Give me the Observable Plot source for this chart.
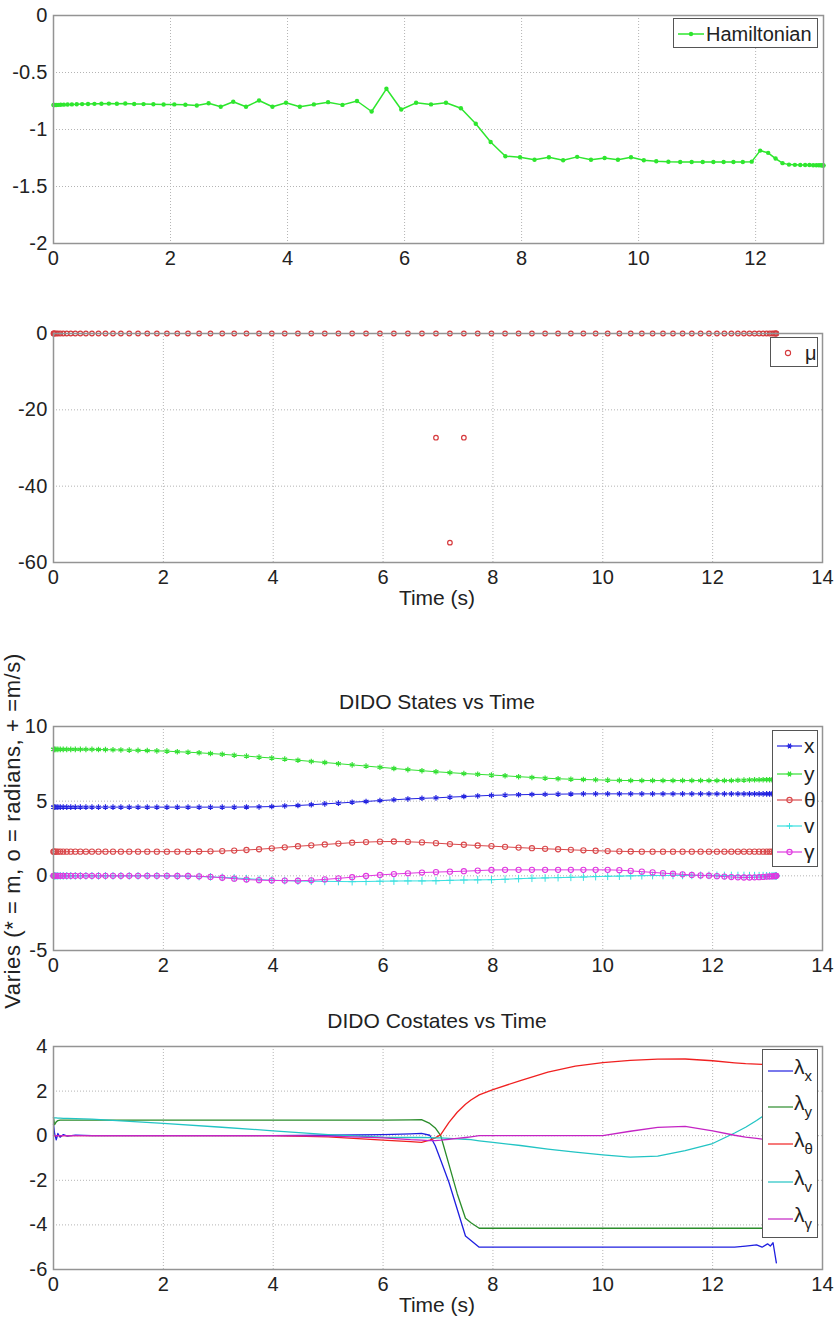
<!DOCTYPE html>
<html><head><meta charset="utf-8">
<script src="https://cdn.jsdelivr.net/npm/d3@7"></script>
<script src="https://cdn.jsdelivr.net/npm/@observablehq/plot@0.6"></script>
<style>
body{margin:0;background:#fff;}
#root{position:relative;width:840px;height:1321px;overflow:hidden;font-family:"Liberation Sans",Arial,Helvetica,sans-serif;color:#222;}
.lbl{position:absolute;white-space:nowrap;font-size:20px;line-height:20px;transform:translate(-50%,-50%);}
.legend{position:absolute;background:#fff;border:1px solid #555;box-sizing:border-box;}
.legend svg{position:absolute;left:0;top:0;}
.legend .t{position:absolute;white-space:nowrap;line-height:20px;transform:translateY(-50%);}
.legend sub{font-size:15px;vertical-align:-7px;}
</style></head>
<body><div id="root"></div>
<script>
// ---------- data ----------
const time = [0,0.005,0.020,0.045,0.079,0.123,0.177,0.241,0.314,0.397,
0.489,0.590,0.700,0.819,0.946,1.083,1.227,1.379,1.539,1.707,
1.882,2.065,2.254,2.449,2.651,2.858,3.072,3.290,3.513,3.742,
3.974,4.210,4.450,4.693,4.939,5.187,5.437,5.690,5.943,6.197,
6.452,6.708,6.963,7.217,7.471,7.723,7.973,8.221,8.467,8.710,
8.950,9.186,9.419,9.647,9.870,10.089,10.302,10.509,10.711,10.907,
11.096,11.278,11.453,11.621,11.781,11.933,12.078,12.214,12.341,12.460,
12.570,12.671,12.763,12.846,12.919,12.983,13.037,13.081,13.116,13.140,
13.155,13.160];

const hamiltonian = [-0.785,-0.785,-0.785,-0.785,-0.784,-0.783,-0.782,-0.781,-0.780,-0.779,
-0.777,-0.776,-0.775,-0.774,-0.773,-0.774,-0.772,-0.776,-0.777,-0.779,
-0.781,-0.780,-0.783,-0.790,-0.770,-0.800,-0.757,-0.800,-0.746,-0.800,
-0.765,-0.800,-0.780,-0.760,-0.784,-0.750,-0.842,-0.643,-0.825,-0.766,
-0.780,-0.766,-0.813,-0.950,-1.110,-1.234,-1.243,-1.265,-1.243,-1.270,
-1.240,-1.265,-1.250,-1.265,-1.243,-1.270,-1.278,-1.283,-1.285,-1.285,
-1.285,-1.285,-1.285,-1.285,-1.285,-1.282,-1.185,-1.205,-1.255,-1.295,
-1.308,-1.310,-1.311,-1.312,-1.312,-1.313,-1.313,-1.314,-1.314,-1.315,
-1.315,-1.315];

// mu at every node (all on the zero line)
const mu = [0,0,0,0,0,0,0,0,0,0,
0,0,0,0,0,0,0,0,0,0,
0,0,0,0,0,0,0,0,0,0,
0,0,0,0,0,0,0,0,0,0,
0,0,0,0,0,0,0,0,0,0,
0,0,0,0,0,0,0,0,0,0,
0,0,0,0,0,0,0,0,0,0,
0,0,0,0,0,0,0,0,0,0,
0,0];
// the three off-zero mu values
const muSpikeTime = [6.963, 7.217, 7.471];
const muSpikeValue = [-27.3, -54.8, -27.3];

const stateX = [4.60,4.60,4.60,4.60,4.60,4.60,4.60,4.60,4.60,4.60,
4.60,4.60,4.60,4.60,4.60,4.60,4.60,4.60,4.60,4.60,
4.60,4.60,4.60,4.60,4.60,4.60,4.60,4.60,4.61,4.62,
4.64,4.68,4.71,4.76,4.82,4.87,4.93,4.98,5.04,5.09,
5.15,5.19,5.22,5.27,5.31,5.35,5.39,5.41,5.43,5.45,
5.46,5.47,5.48,5.49,5.49,5.49,5.49,5.49,5.49,5.49,
5.49,5.49,5.49,5.49,5.49,5.49,5.49,5.49,5.49,5.49,
5.49,5.49,5.49,5.49,5.49,5.49,5.49,5.49,5.49,5.49,
5.49,5.49];

const stateY = [8.47,8.47,8.47,8.47,8.47,8.47,8.47,8.47,8.47,8.47,
8.47,8.47,8.47,8.46,8.45,8.44,8.43,8.42,8.40,8.39,
8.37,8.35,8.31,8.28,8.24,8.19,8.14,8.08,8.02,7.95,
7.89,7.82,7.74,7.66,7.59,7.51,7.43,7.35,7.27,7.19,
7.11,7.04,6.97,6.91,6.85,6.80,6.75,6.70,6.64,6.59,
6.54,6.50,6.47,6.45,6.43,6.41,6.39,6.38,6.38,6.38,
6.38,6.38,6.38,6.38,6.38,6.38,6.38,6.38,6.38,6.40,
6.41,6.42,6.43,6.43,6.44,6.44,6.44,6.44,6.44,6.44,
6.44,6.44];

const stateTheta = [1.62,1.62,1.62,1.62,1.62,1.62,1.62,1.62,1.62,1.62,
1.62,1.62,1.62,1.62,1.62,1.62,1.62,1.62,1.62,1.62,
1.62,1.62,1.62,1.62,1.63,1.64,1.66,1.69,1.73,1.78,
1.84,1.91,1.98,2.04,2.10,2.16,2.22,2.26,2.29,2.30,
2.28,2.24,2.19,2.13,2.08,2.03,1.99,1.94,1.89,1.85,
1.81,1.78,1.74,1.71,1.68,1.66,1.64,1.63,1.62,1.62,
1.62,1.62,1.62,1.62,1.62,1.62,1.62,1.62,1.62,1.62,
1.62,1.62,1.62,1.62,1.62,1.62,1.62,1.62,1.62,1.62,
1.62,1.62];

const stateV = [0,0,0,0,0,0,0,0,0,0,
0,0,0,0,0,0,0,0,0,0,
0,-0.01,-0.02,-0.03,-0.05,-0.07,-0.10,-0.14,-0.19,-0.24,
-0.29,-0.32,-0.35,-0.36,-0.37,-0.38,-0.39,-0.38,-0.36,-0.35,
-0.34,-0.34,-0.33,-0.30,-0.28,-0.27,-0.26,-0.23,-0.19,-0.16,
-0.14,-0.12,-0.10,-0.08,-0.05,-0.03,-0.02,0,0.01,0.02,
0.02,0.03,0.03,0.03,0.03,0.03,0.03,0.02,0.02,0.02,
0.02,0.01,0.01,0.01,0.01,0,0,0,0,0,
0,0];

const stateGamma = [0,0,0,0,0,0,0,0,0,0,
0,0,0,0,0,0,0,0,0,0,
0,0,-0.01,-0.01,-0.03,-0.07,-0.13,-0.19,-0.25,-0.29,
-0.31,-0.32,-0.33,-0.30,-0.24,-0.17,-0.09,-0.01,0.06,0.12,
0.17,0.22,0.25,0.28,0.31,0.35,0.39,0.40,0.40,0.40,
0.40,0.40,0.40,0.40,0.40,0.40,0.38,0.33,0.28,0.23,
0.18,0.14,0.10,0.06,0.03,0.01,-0.02,-0.05,-0.08,-0.10,
-0.11,-0.11,-0.10,-0.09,-0.07,-0.05,-0.04,-0.03,-0.02,-0.01,
0,0];

const costateTime = [0,0.02,0.05,0.08,0.12,0.18,0.25,0.4,0.7,1,
2,3,4,5,6,6.5,6.7,6.85,6.95,7.05,
7.2,7.35,7.5,7.6,7.75,8,8.5,9,9.5,10,
10.5,11,11.5,12,12.4,12.6,12.8,12.9,13.0,13.05,
13.1,13.16];

const lambdaX = [0.52,0.10,-0.19,0.10,-0.07,0.05,-0.02,0.03,0.00,0.00,
0.00,0.00,0.00,0.02,0.05,0.08,0.10,0.02,-0.45,-1.10,
-2.10,-3.30,-4.50,-4.70,-5.00,-5.00,-5.00,-5.00,-5.00,-5.00,
-5.00,-5.00,-5.00,-5.00,-5.00,-4.95,-4.90,-5.00,-4.85,-4.95,
-4.80,-5.70];

const lambdaY = [0.81,0.50,0.62,0.68,0.70,0.70,0.70,0.70,0.70,0.70,
0.70,0.70,0.70,0.70,0.70,0.71,0.72,0.55,0.35,0.00,
-1.30,-2.60,-3.70,-3.90,-4.15,-4.15,-4.15,-4.15,-4.15,-4.15,
-4.15,-4.15,-4.15,-4.15,-4.15,-4.15,-4.15,-4.15,-4.15,-4.12,
-4.10,-4.10];

const lambdaTheta = [0,0,0,0,0,0,0,0,0,0,
0,0,0,-0.05,-0.20,-0.27,-0.30,-0.20,-0.10,0.05,
0.60,1.05,1.41,1.60,1.83,2.07,2.47,2.85,3.12,3.28,
3.38,3.43,3.44,3.36,3.27,3.23,3.21,3.20,3.20,3.20,
3.19,3.19];

const lambdaV = [0.80,0.80,0.80,0.79,0.79,0.78,0.78,0.77,0.74,0.70,
0.55,0.39,0.22,0.05,-0.07,-0.08,-0.08,-0.09,-0.10,-0.10,
-0.12,-0.14,-0.16,-0.18,-0.23,-0.30,-0.44,-0.60,-0.74,-0.86,
-0.96,-0.92,-0.67,-0.35,0.12,0.38,0.68,0.85,0.95,1.00,
1.05,1.10];

const lambdaGamma = [0,0,0,0,0,0,0,0,0,0,
0,0,0,-0.02,-0.10,-0.18,-0.20,-0.22,-0.22,-0.20,
-0.16,-0.12,-0.08,-0.05,0.00,0.00,0.00,0.00,0.00,0.00,
0.20,0.37,0.42,0.22,0.02,-0.06,-0.12,-0.15,-0.17,-0.18,
-0.19,-0.20];

const xTicksH = [0,2,4,6,8,10,12];
const xTicks = [0,2,4,6,8,10,12,14];
const hTicks = [-2,-1.5,-1,-0.5,0];
const muTicks = [-60,-40,-20,0];
const stateTicks = [-5,0,5,10];
const costateTicks = [-6,-4,-2,0,2,4];

const colors = {
  H: "#2ee62e", mu: "#d63a3d",
  x: "#2323e0", y: "#33e033", theta: "#d9484b", v: "#38e0e0", gamma: "#e038e0",
  lx: "#1f1fe0", ly: "#2a8c2a", lth: "#f02020", lv: "#22c4c4", lg: "#c424c4"
};

// ---------- helpers ----------
const root = document.getElementById("root");
const fmt = d => String(d);
const rows = (ts, vs) => ts.map((t, i) => ({t, v: vs[i]}));
const gridStyle = {stroke: "#b4b4b4", strokeOpacity: 1, strokeWidth: 1, strokeDasharray: "1,2"};

function addPlot({top, height, mt, mb, mr, xDomain, xt, yDomain, yt, marks}) {
  const svg = Plot.plot({
    width: 840, height, marginLeft: 53, marginRight: mr, marginTop: mt, marginBottom: mb,
    style: {fontFamily: "'Liberation Sans', Arial, Helvetica, sans-serif", fontSize: "20px", letterSpacing: "0.2px", color: "#222", background: "transparent", overflow: "visible"},
    x: {domain: xDomain, ticks: xt, tickFormat: fmt, tickSize: 0, tickPadding: 7, label: null},
    y: {domain: yDomain, ticks: yt, tickFormat: fmt, tickSize: 0, tickPadding: 6, label: null},
    marks: [
      Plot.gridX(xt, gridStyle),
      Plot.gridY(yt, gridStyle),
      ...marks,
      Plot.frame({stroke: "#949494", strokeWidth: 1.5})
    ]
  });
  svg.style.position = "absolute";
  svg.style.left = "0px";
  svg.style.top = top + "px";
  root.appendChild(svg);
}

function label(text, cx, cy, size, rotate, spacing) {
  const d = document.createElement("div");
  d.className = "lbl";
  d.textContent = text;
  d.style.left = cx + "px";
  d.style.top = cy + "px";
  if (size) d.style.fontSize = size + "px";
  if (spacing) d.style.letterSpacing = spacing + "px";
  if (rotate) d.style.transform = "translate(-50%,-50%) rotate(-90deg)";
  root.appendChild(d);
}

function markerSvg(kind, color, cx, cy) {
  if (kind === "dot") return `<circle cx="${cx}" cy="${cy}" r="2.2" fill="${color}"/>`;
  if (kind === "circle") return `<circle cx="${cx}" cy="${cy}" r="2.6" fill="none" stroke="${color}" stroke-width="1.1"/>`;
  if (kind === "plus") return `<path d="M${cx-3},${cy}H${cx+3}M${cx},${cy-3}V${cy+3}" stroke="${color}" stroke-width="1"/>`;
  if (kind === "asterisk") return `<path d="M${cx-2.8},${cy}H${cx+2.8}M${cx-1.4},${cy-2.4}L${cx+1.4},${cy+2.4}M${cx-1.4},${cy+2.4}L${cx+1.4},${cy-2.4}" stroke="${color}" stroke-width="1.2"/>`;
  return "";
}

function legend({left, top, w, h, x1, x2, textX, fontSize, entries}) {
  const box = document.createElement("div");
  box.className = "legend";
  Object.assign(box.style, {left: left + "px", top: top + "px", width: w + "px", height: h + "px"});
  let s = `<svg width="${w}" height="${h}">`;
  for (const e of entries) {
    if (e.line) s += `<line x1="${x1}" x2="${x2}" y1="${e.dy}" y2="${e.dy}" stroke="${e.color}" stroke-width="${e.lw || 1.2}"/>`;
    if (e.marker) s += markerSvg(e.marker, e.color, (x1 + x2) / 2, e.dy);
  }
  s += `</svg>`;
  for (const e of entries) {
    s += `<div class="t" style="left:${textX}px;top:${e.dy}px;font-size:${fontSize}px">${e.html}</div>`;
  }
  box.innerHTML = s;
  root.appendChild(box);
}

// ---------- panel 1: Hamiltonian ----------
const hData = rows(time, hamiltonian);
addPlot({top: 0, height: 275, mt: 15, mb: 32, mr: 17, xDomain: [0, 13.16], xt: xTicksH, yDomain: [-2, 0], yt: hTicks,
  marks: [
    Plot.line(hData, {x: "t", y: "v", stroke: colors.H, strokeWidth: 1.5}),
    Plot.dot(hData, {x: "t", y: "v", fill: colors.H, r: 2.2, stroke: "none"})
  ]});
legend({left: 673, top: 18, w: 145, h: 30, x1: 4, x2: 30, textX: 32, fontSize: 20,
  entries: [{dy: 15, color: colors.H, line: true, marker: "dot", lw: 1.5, html: "Hamiltonian"}]});

// ---------- panel 2: mu ----------
const muData = rows(time, mu);
const muSpikes = rows(muSpikeTime, muSpikeValue);
addPlot({top: 318, height: 270, mt: 15, mb: 26, mr: 18, xDomain: [0, 14], xt: xTicks, yDomain: [-60, 0], yt: muTicks,
  marks: [
    Plot.dot(muData, {x: "t", y: "v", stroke: colors.mu, fill: "none", r: 2.3, strokeWidth: 1.2}),
    Plot.dot(muSpikes, {x: "t", y: "v", stroke: colors.mu, fill: "none", r: 2.3, strokeWidth: 1.2})
  ]});
legend({left: 770, top: 337, w: 48, h: 30, x1: 8, x2: 26, textX: 34, fontSize: 20,
  entries: [{dy: 15, color: colors.mu, line: false, marker: "circle", html: "μ"}]});
label("Time (s)", 437, 598, 21);

// ---------- panel 3: states ----------
label("DIDO States vs Time", 437, 702, 21);
const sx = rows(time, stateX), sy = rows(time, stateY), sth = rows(time, stateTheta), sv = rows(time, stateV), sg = rows(time, stateGamma);
addPlot({top: 711, height: 269, mt: 15, mb: 30, mr: 18, xDomain: [0, 14], xt: xTicks, yDomain: [-5, 10], yt: stateTicks,
  marks: [
    Plot.line(sx, {x: "t", y: "v", stroke: colors.x, strokeWidth: 1}),
    Plot.dot(sx, {x: "t", y: "v", symbol: "asterisk", stroke: colors.x, r: 2.6, strokeWidth: 1.2}),
    Plot.line(sy, {x: "t", y: "v", stroke: colors.y, strokeWidth: 1}),
    Plot.dot(sy, {x: "t", y: "v", symbol: "asterisk", stroke: colors.y, r: 2.6, strokeWidth: 1.2}),
    Plot.line(sth, {x: "t", y: "v", stroke: colors.theta, strokeWidth: 1}),
    Plot.dot(sth, {x: "t", y: "v", symbol: "circle", stroke: colors.theta, fill: "none", r: 2.6, strokeWidth: 1.1}),
    Plot.line(sv, {x: "t", y: "v", stroke: colors.v, strokeWidth: 1}),
    Plot.dot(sv, {x: "t", y: "v", symbol: "plus", stroke: colors.v, r: 2.6, strokeWidth: 1}),
    Plot.line(sg, {x: "t", y: "v", stroke: colors.gamma, strokeWidth: 1}),
    Plot.dot(sg, {x: "t", y: "v", symbol: "circle", stroke: colors.gamma, fill: "none", r: 2.6, strokeWidth: 1.1})
  ]});
legend({left: 772, top: 730, w: 46, h: 137, x1: 4, x2: 29, textX: 31, fontSize: 21,
  entries: [
    {dy: 15, color: colors.x, line: true, marker: "asterisk", html: "x"},
    {dy: 43, color: colors.y, line: true, marker: "asterisk", html: "y"},
    {dy: 69, color: colors.theta, line: true, marker: "circle", html: "θ"},
    {dy: 95, color: colors.v, line: true, marker: "plus", html: "v"},
    {dy: 121, color: colors.gamma, line: true, marker: "circle", html: "γ"}
  ]});
label("Varies (* = m, o = radians, + =m/s)", 13, 831, 22, true, 0.6);

// ---------- panel 4: costates ----------
label("DIDO Costates vs Time", 437, 1021, 21);
const cx = rows(costateTime, lambdaX), cy = rows(costateTime, lambdaY), cth = rows(costateTime, lambdaTheta), cv = rows(costateTime, lambdaV), cg = rows(costateTime, lambdaGamma);
addPlot({top: 1031, height: 270, mt: 15, mb: 32, mr: 18, xDomain: [0, 14], xt: xTicks, yDomain: [-6, 4], yt: costateTicks,
  marks: [
    Plot.line(cx, {x: "t", y: "v", stroke: colors.lx, strokeWidth: 1.3}),
    Plot.line(cy, {x: "t", y: "v", stroke: colors.ly, strokeWidth: 1.3}),
    Plot.line(cth, {x: "t", y: "v", stroke: colors.lth, strokeWidth: 1.3}),
    Plot.line(cv, {x: "t", y: "v", stroke: colors.lv, strokeWidth: 1.3}),
    Plot.line(cg, {x: "t", y: "v", stroke: colors.lg, strokeWidth: 1.3})
  ]});
legend({left: 762, top: 1049, w: 56, h: 189, x1: 5, x2: 30, textX: 31, fontSize: 21,
  entries: [
    {dy: 21, color: colors.lx, line: true, html: "λ<sub>x</sub>"},
    {dy: 57, color: colors.ly, line: true, html: "λ<sub>y</sub>"},
    {dy: 94, color: colors.lth, line: true, html: "λ<sub>θ</sub>"},
    {dy: 132, color: colors.lv, line: true, html: "λ<sub>v</sub>"},
    {dy: 169, color: colors.lg, line: true, html: "λ<sub>γ</sub>"}
  ]});
label("Time (s)", 437, 1305, 21);
</script>
</body></html>
